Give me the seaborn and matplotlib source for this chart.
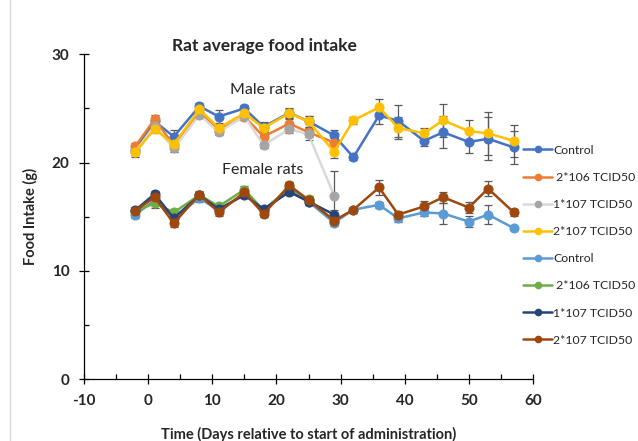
import numpy as np
import pandas as pd
import seaborn as sns
import matplotlib
matplotlib.use("Agg")
import matplotlib.pyplot as plt
from matplotlib.lines import Line2D
from matplotlib.ticker import MultipleLocator

sns.set_theme(style="white")
plt.rcParams['font.family'] = ['Lato', 'DejaVu Sans']
plt.rcParams['axes.unicode_minus'] = False

# ---- data ----
days = [-2, 1, 4, 8, 11, 15, 18, 22, 25, 29, 32, 36, 39, 43, 46, 50, 53, 57]
days_short = days[:10]

male_control = [21.2, 23.8, 22.4, 25.2, 24.25, 25.0, 23.3, 24.6, 23.8, 22.5, 20.5, 24.35, 23.85, 22.0, 22.8, 21.9, 22.2, 21.4]
male_2e6 = [21.5, 24.0, 21.6, 24.7, 23.0, 24.25, 22.4, 23.6, 22.8, 21.85]
male_1e7 = [21.0, 23.4, 21.3, 24.4, 22.8, 24.3, 21.6, 23.1, 22.6, 16.95]
male_2e7 = [20.96, 23.1, 21.7, 24.9, 23.2, 24.55, 23.2, 24.55, 23.8, 21.0, 23.9, 25.1, 23.2, 22.7, 23.9, 22.9, 22.7, 22.0]

male_control_err = [0.4, 0.4, 0.6, 0.3, 0.6, 0.3, 0.4, 0.4, 0.5, 0.5, 0.3, 0.8, 1.5, 0.5, 1.5, 1.0, 2.0, 1.5]
male_2e6_err = [0.3, 0.4, 0.4, 0.3, 0.4, 0.3, 0.4, 0.4, 0.4, 0.4]
male_1e7_err = [0.3, 0.3, 0.3, 0.3, 0.3, 0.3, 0.3, 0.4, 0.5, 2.3]
male_2e7_err = [0.4, 0.4, 0.5, 0.3, 0.4, 0.3, 0.4, 0.4, 0.5, 0.6, 0.3, 0.8, 1.0, 0.5, 1.5, 1.0, 2.0, 1.5]

female_control = [15.2, 16.5, 15.0, 16.7, 15.6, 17.1, 15.5, 17.5, 16.4, 14.45, 15.65, 16.1, 14.85, 15.4, 15.3, 14.55, 15.2, 13.95]
female_2e6 = [15.5, 16.25, 15.4, 17.0, 15.95, 17.5, 15.6, 17.7, 16.6, 14.6]
female_1e7 = [15.6, 17.1, 14.85, 17.0, 15.7, 17.0, 15.7, 17.3, 16.4, 15.2]
female_2e7 = [15.55, 16.8, 14.4, 17.05, 15.4, 17.25, 15.25, 17.9, 16.55, 14.65, 15.65, 17.7, 15.2, 15.95, 16.8, 15.85, 17.6, 15.4]

female_control_err = [0.3, 0.3, 0.3, 0.3, 0.3, 0.3, 0.3, 0.3, 0.3, 0.3, 0.2, 0.3, 0.3, 0.3, 1.0, 0.5, 0.9, 0.2]
female_2e6_err = [0.3, 0.4, 0.3, 0.3, 0.3, 0.3, 0.3, 0.3, 0.3, 0.3]
female_1e7_err = [0.3, 0.3, 0.3, 0.3, 0.3, 0.3, 0.3, 0.3, 0.3, 0.4]
female_2e7_err = [0.3, 0.3, 0.3, 0.3, 0.3, 0.3, 0.3, 0.3, 0.3, 0.3, 0.2, 0.7, 0.3, 0.5, 0.5, 0.5, 0.7, 0.3]

labels = ["Control", " 2*106 TCID50", "1*107 TCID50", "2*107 TCID50",
          "Control", " 2*106 TCID50", "1*107 TCID50", "2*107 TCID50"]

series = [
    (days, male_control, male_control_err, "#4472C4", "#4472C4"),
    (days_short, male_2e6, male_2e6_err, "#ED7D31", "#ED7D31"),
    (days_short, male_1e7, male_1e7_err, "#D9D9D9", "#A5A5A5"),
    (days, male_2e7, male_2e7_err, "#FFC000", "#FFC000"),
    (days, female_control, female_control_err, "#5B9BD5", "#5B9BD5"),
    (days_short, female_2e6, female_2e6_err, "#70AD47", "#70AD47"),
    (days_short, female_1e7, female_1e7_err, "#264478", "#264478"),
    (days, female_2e7, female_2e7_err, "#9E480E", "#9E480E"),
]

fig = plt.figure(figsize=(6.38, 4.41), dpi=100)
ax = fig.add_axes([0.1317, 0.140, 0.7037, 0.737])

handles = []
for (x, y, e, lc, mc), lab in zip(series, labels):
    df = pd.DataFrame({"day": x, "val": y})
    ax.errorbar(x, y, yerr=e, fmt="none", ecolor="#595959", elinewidth=0.9,
                capsize=3, capthick=0.9, zorder=2)
    sns.lineplot(data=df, x="day", y="val", ax=ax, color=lc, linewidth=1.8,
                 marker="o", markersize=6.5, markerfacecolor=mc,
                 markeredgecolor=mc, zorder=3, legend=False)
    handles.append(Line2D([0], [0], color=lc, lw=1.8, marker="o", markersize=4.5,
                          markerfacecolor=mc, markeredgecolor=mc))

ax.set_xlim(-10, 60)
ax.set_ylim(0, 30)
ax.xaxis.set_major_locator(MultipleLocator(10))
ax.xaxis.set_minor_locator(MultipleLocator(5))
ax.yaxis.set_major_locator(MultipleLocator(10))
ax.yaxis.set_minor_locator(MultipleLocator(5))
ax.tick_params(which="major", direction="inout", length=7, width=0.9, color="black",
               labelsize=11, pad=7, bottom=True, left=True)
ax.tick_params(which="minor", direction="in", length=3.5, width=0.9, color="black",
               bottom=True, left=True)
for lab in ax.get_xticklabels() + ax.get_yticklabels():
    lab.set_fontweight("bold")

for s in ["top", "right"]:
    ax.spines[s].set_visible(False)
for s in ["left", "bottom"]:
    ax.spines[s].set_color("black")
    ax.spines[s].set_linewidth(0.9)

ax.set_xlabel("Time (Days relative to start of administration)", fontsize=10.5,
              fontweight="bold", labelpad=14)
ax.set_ylabel("Food Intake (g)", fontsize=10.5, fontweight="bold", labelpad=10)

ax.text(17.9, 26.7, "Male rats", ha="center", va="center", fontsize=11.5)
ax.text(17.9, 19.3, "Female rats", ha="center", va="center", fontsize=11.5)
fig.text(0.414, 0.895, "Rat average food intake", ha="center", va="center",
         fontsize=12.5, fontweight="bold")

fig.legend(handles, labels, loc="center left", bbox_to_anchor=(0.812, 0.444),
           frameon=False, fontsize=8.8, handlelength=2.4, handletextpad=0.05,
           labelspacing=1.32, borderaxespad=0)

fig.add_artist(Line2D([0.016, 0.016], [0, 1], color="#D9D9D9", lw=1,
                      transform=fig.transFigure))

fig.savefig("out.png", dpi=100)
